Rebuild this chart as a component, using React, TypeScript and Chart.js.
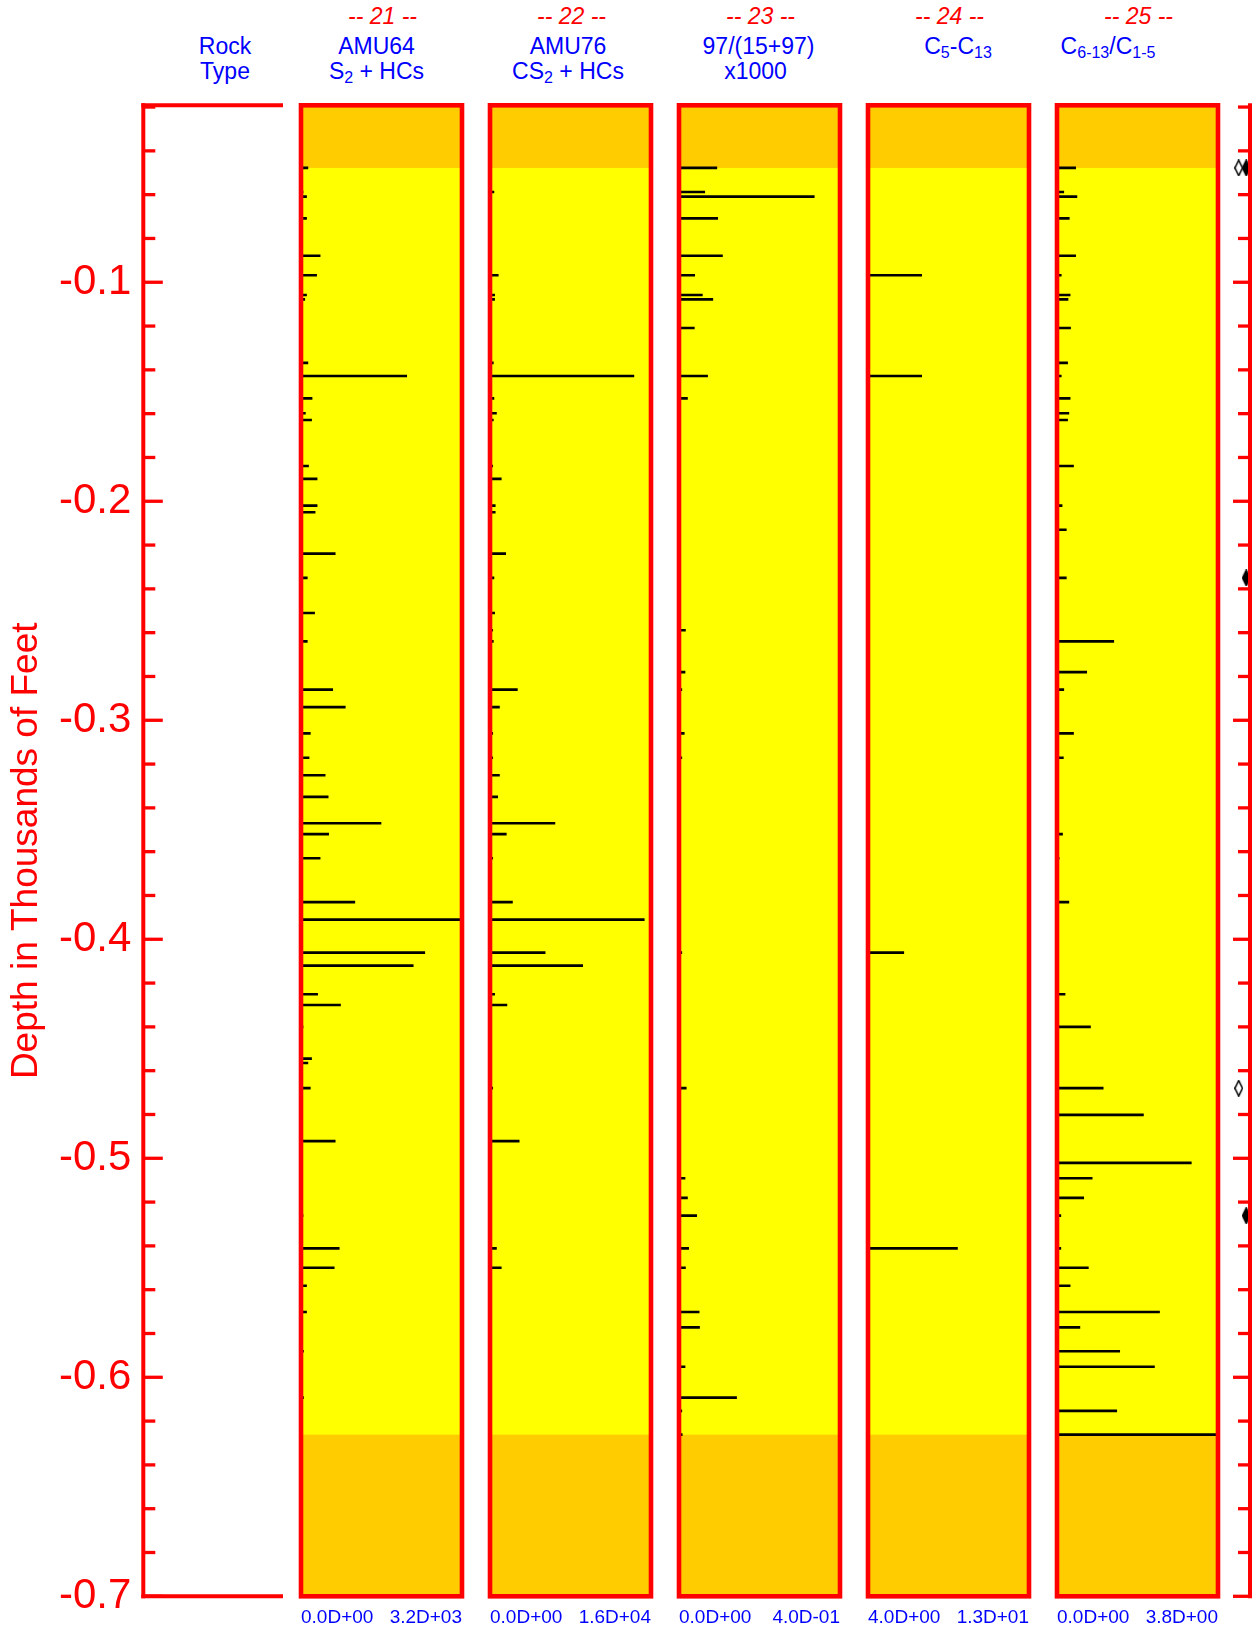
import React, { useEffect, useRef } from 'react';
import { Chart, registerables } from 'chart.js';

Chart.register(...registerables);

// ---------------- data ----------------
const DEPTHS = [
  -0.0478, -0.0588, -0.0609, -0.0708, -0.0879, -0.0968, -0.1058, -0.1078, -0.1209, -0.1368,
  -0.1428, -0.153, -0.1598, -0.1629, -0.1839, -0.1898, -0.202, -0.205, -0.213, -0.2239,
  -0.235, -0.251, -0.2589, -0.264, -0.278, -0.286, -0.294, -0.306, -0.3171, -0.3251,
  -0.335, -0.347, -0.352, -0.363, -0.383, -0.391, -0.4061, -0.412, -0.4251, -0.43,
  -0.44, -0.4545, -0.4565, -0.468, -0.4802, -0.4922, -0.5021, -0.5091, -0.5181, -0.5262,
  -0.5411, -0.55, -0.5582, -0.5702, -0.5772, -0.5881, -0.5952, -0.6093, -0.6153, -0.6262,
];

const AMU64_S2_HC = [
  137, 40, 110, 110, 380, 310, 110, 75, null, 137,
  2100, 220, 87, 210, 150, 320, 320, 280, null, 680,
  125, 270, null, 125, null, 630, 880, 185, 160, 480,
  540, 1590, 550, 380, 1070, 3200, 2460, 2230, 330, 785,
  40, 210, 137, 185, null, 680, null, null, null, 40,
  760, 660, 110, 110, null, 50, null, 50, null, null,
];

const AMU76_CS2_HC = [
  null, 390, null, null, null, 820, 460, 460, null, 330,
  14300, 390, 640, 330, 270, 1120, 520, 520, null, 1560,
  390, 460, 270, 330, null, 2720, 940, 270, 270, 940,
  760, 6450, 1620, 270, 2230, 15330, 5480, 9210, 460, 1680,
  null, null, null, 270, null, 2900, null, null, null, null,
  640, 1120, null, null, null, null, null, null, null, null,
];

const RATIO_97 = [
  0.094, 0.064, 0.336, 0.096, 0.108, 0.039, 0.058, 0.084, 0.038, null,
  0.071, 0.021, null, null, null, null, null, null, null, null,
  null, null, 0.016, null, 0.015, 0.007, null, 0.013, 0.007, null,
  null, null, null, null, null, null, 0.007, null, null, null,
  null, null, null, 0.018, null, null, null, 0.015, 0.021, 0.044,
  0.024, 0.016, null, 0.05, 0.051, null, 0.015, 0.143, 0.007, 0.008,
];

const C5_C13 = [
  null, null, null, null, null, 7.0, null, null, null, null,
  7.0, null, null, null, null, null, null, null, null, null,
  null, null, null, null, null, null, null, null, null, null,
  null, null, null, null, null, null, 6.0, null, null, null,
  null, null, null, null, null, null, null, null, null, null,
  9.0, null, null, null, null, null, null, null, null, null,
];

const C613_C15 = [
  0.44, 0.16, 0.47, 0.29, 0.44, 0.1, 0.31, 0.26, 0.32, 0.25,
  0.1, 0.31, 0.28, 0.25, 0.39, null, 0.12, null, 0.22, null,
  0.22, null, null, 1.34, 0.7, 0.16, null, 0.39, 0.15, null,
  null, null, 0.13, 0.05, 0.28, null, null, null, 0.19, null,
  0.79, null, null, 1.09, 2.04, null, 3.17, 0.83, 0.63, 0.09,
  0.09, 0.74, 0.31, 2.42, 0.54, 1.48, 2.3, null, 1.41, 3.8,
];

const PANEL_SERIES = [AMU64_S2_HC, AMU76_CS2_HC, RATIO_97, C5_C13, C613_C15];
const PANEL_NUMBERS = ['21', '22', '23', '24', '25'];
const RANGE_MIN = [0, 0, 0, 4, 0];
const RANGE_MAX = [3200, 16000, 0.4, 13, 3.8];

const DEPTH_MIN = -0.7;
const DEPTH_MAX = -0.0192;
const DEPTH_STEP = 0.02;

const FLAGS_OPEN = [-0.0478, -0.468];
const FLAGS_FILLED = [-0.0478, -0.235, -0.5262];

// ---------------- style / layout ----------------
const FONT = '"Liberation Sans", Arial, Helvetica, sans-serif';
const RED = '#ff0000';
const BLUE = '#0000ff';
const ORANGE = '#ffcc00';
const YELLOW = '#ffff00';

const W = 1256;
const H = 1629;
const PLOT_TOP = 105.3;
const PLOT_BOTTOM = 1596.3;
const AXIS_X = 143.3;
const ROCK_RIGHT = 283;
const LEFT_CANVAS_W = 296;
const PANEL_LEFT0 = 301;
const PANEL_STEP = 189;
const PANEL_W = 161;
const PANEL_PAD = 8;
const RIGHT_CANVAS_LEFT = 1200;
const RIGHT_AXIS_X = 1250;
const FLAG_AREA_LEFT = 1235;

const isMajor = (v: number) => Math.abs(v * 10 - Math.round(v * 10)) < 1e-6;
const depthLabel = (v: number) => (isMajor(v) ? (Math.round(v * 10) / 10).toFixed(1) : '');

function depthTicks(scale: any) {
  const n = Math.floor((DEPTH_MAX - DEPTH_MIN) / DEPTH_STEP + 1e-6);
  const ticks = [];
  for (let k = 0; k <= n; k++) ticks.push({ value: +(DEPTH_MIN + k * DEPTH_STEP).toFixed(4) });
  scale.ticks = ticks;
}

const noPadding = (s: any) => {
  s.paddingTop = 0;
  s.paddingBottom = 0;
  s.paddingLeft = 0;
  s.paddingRight = 0;
};

function fmtD(v: number): string {
  if (v === 0) return '0.0D+00';
  const e = Math.floor(Math.log10(Math.abs(v)) + 1e-9);
  const m = v / Math.pow(10, e);
  const ae = Math.abs(e);
  return `${m.toFixed(1)}D${e < 0 ? '-' : '+'}${ae < 10 ? '0' + ae : ae}`;
}

function drawAxisMarks(chart: any, side: 'left' | 'right') {
  const { ctx, chartArea: a } = chart;
  const y = chart.scales.y;
  const x0 = side === 'left' ? a.left : a.right;
  const dir = side === 'left' ? 1 : -1;
  ctx.save();
  ctx.strokeStyle = RED;
  ctx.lineCap = 'butt';
  ctx.lineWidth = 4;
  ctx.beginPath();
  ctx.moveTo(x0, a.top - 2);
  ctx.lineTo(x0, a.bottom + 2);
  ctx.stroke();
  if (side === 'left') {
    ctx.beginPath();
    ctx.moveTo(x0 - 2, a.top);
    ctx.lineTo(a.right, a.top);
    ctx.moveTo(x0 - 2, a.bottom);
    ctx.lineTo(a.right, a.bottom);
    ctx.stroke();
  }
  ctx.lineWidth = 3.3;
  for (const t of y.ticks) {
    const py = y.getPixelForValue(t.value);
    const len = isMajor(t.value) ? (side === 'left' ? 19.5 : 17) : 12;
    ctx.beginPath();
    ctx.moveTo(x0, py);
    ctx.lineTo(x0 + dir * len, py);
    ctx.stroke();
  }
  ctx.restore();
}

function DepthAxisChart() {
  const ref = useRef<HTMLCanvasElement>(null);
  useEffect(() => {
    const chart = new Chart(ref.current as HTMLCanvasElement, {
      type: 'scatter',
      data: { datasets: [] },
      options: {
        responsive: false,
        animation: false,
        events: [],
        layout: { padding: { left: 0, top: PLOT_TOP, right: LEFT_CANVAS_W - ROCK_RIGHT, bottom: H - PLOT_BOTTOM } },
        plugins: { legend: { display: false }, tooltip: { enabled: false } },
        scales: {
          x: { display: false, min: 0, max: 1 },
          y: {
            type: 'linear',
            position: 'left',
            min: DEPTH_MIN,
            max: DEPTH_MAX,
            afterBuildTicks: depthTicks,
            afterFit: (s: any) => { s.width = AXIS_X; noPadding(s); },
            grid: { display: false },
            border: { display: false },
            ticks: {
              autoSkip: false,
              padding: 4,
              color: RED,
              font: { family: FONT, size: 42 },
              callback: (v: any) => depthLabel(Number(v)),
            },
            title: {
              display: true,
              text: 'Depth in Thousands of Feet',
              color: RED,
              font: { family: FONT, size: 37 },
              padding: { top: 5, bottom: 0 },
            },
          },
        },
      } as any,
      plugins: [{ id: 'leftAxisMarks', afterDraw: (c: any) => drawAxisMarks(c, 'left') }],
    });
    return () => chart.destroy();
  }, []);
  return <canvas ref={ref} width={LEFT_CANVAS_W} height={H} style={{ position: 'absolute', left: 0, top: 0 }} />;
}

const panelFrame = {
  id: 'panelFrame',
  beforeDatasetsDraw(chart: any) {
    const { ctx, chartArea: a } = chart;
    const y = chart.scales.y;
    const top = Math.max(...DEPTHS);
    const bottom = Math.min(...DEPTHS);
    ctx.save();
    ctx.fillStyle = ORANGE;
    ctx.fillRect(a.left, a.top, a.right - a.left, a.bottom - a.top);
    const y1 = y.getPixelForValue(top);
    const y2 = y.getPixelForValue(bottom);
    ctx.fillStyle = YELLOW;
    ctx.fillRect(a.left, y1, a.right - a.left, y2 - y1);
    ctx.restore();
  },
  afterDraw(chart: any) {
    const { ctx, chartArea: a } = chart;
    ctx.save();
    ctx.strokeStyle = RED;
    ctx.lineWidth = 4.6;
    ctx.strokeRect(a.left, a.top, a.right - a.left, a.bottom - a.top);
    ctx.restore();
  },
};

function PanelChart({ index }: { index: number }) {
  const ref = useRef<HTMLCanvasElement>(null);
  useEffect(() => {
    const values = PANEL_SERIES[index];
    const min = RANGE_MIN[index];
    const max = RANGE_MAX[index];
    const points = DEPTHS.map((d, i) => (values[i] == null ? null : { x: values[i], y: d })).filter(Boolean);
    const chart = new Chart(ref.current as HTMLCanvasElement, {
      type: 'bar',
      data: {
        datasets: [
          {
            data: points as any,
            backgroundColor: '#000000',
            borderWidth: 0,
            barThickness: 2,
            clip: 0,
          },
        ],
      },
      options: {
        indexAxis: 'y',
        responsive: false,
        animation: false,
        events: [],
        layout: { padding: { left: PANEL_PAD, right: PANEL_PAD, top: PLOT_TOP, bottom: 0 } },
        plugins: { legend: { display: false }, tooltip: { enabled: false } },
        scales: {
          x: {
            type: 'linear',
            position: 'bottom',
            min,
            max,
            grid: { display: false },
            border: { display: false },
            afterBuildTicks: (s: any) => { s.ticks = [{ value: min }, { value: max }]; },
            afterFit: (s: any) => { s.height = H - PLOT_BOTTOM; noPadding(s); },
            ticks: {
              align: 'inner',
              autoSkip: false,
              maxRotation: 0,
              padding: 2,
              color: BLUE,
              font: { family: FONT, size: 19 },
              callback: (v: any) => fmtD(Number(v)),
            },
          },
          y: {
            type: 'linear',
            min: DEPTH_MIN,
            max: DEPTH_MAX,
            offset: false,
            display: false,
            afterFit: noPadding,
          },
        },
      } as any,
      plugins: [panelFrame],
    });
    return () => chart.destroy();
  }, [index]);
  const left = PANEL_LEFT0 + index * PANEL_STEP - PANEL_PAD;
  return (
    <canvas
      ref={ref}
      width={PANEL_W + 2 * PANEL_PAD}
      height={H}
      style={{ position: 'absolute', left, top: 0 }}
    />
  );
}

function makeDiamond(filled: boolean): HTMLCanvasElement {
  const c = document.createElement('canvas');
  const w = 9;
  const h = 17;
  c.width = w;
  c.height = h;
  const g = c.getContext('2d') as CanvasRenderingContext2D;
  g.beginPath();
  g.moveTo(w / 2, 0.75);
  g.lineTo(w - 0.75, h / 2);
  g.lineTo(w / 2, h - 0.75);
  g.lineTo(0.75, h / 2);
  g.closePath();
  g.fillStyle = filled ? '#000000' : '#ffffff';
  g.fill();
  g.strokeStyle = '#000000';
  g.lineWidth = 1.5;
  g.stroke();
  return c;
}

function FlagChart() {
  const ref = useRef<HTMLCanvasElement>(null);
  useEffect(() => {
    const open = makeDiamond(false);
    const filled = makeDiamond(true);
    const chart = new Chart(ref.current as HTMLCanvasElement, {
      type: 'scatter',
      data: {
        datasets: [
          { data: FLAGS_OPEN.map((d) => ({ x: 'open', y: d })), pointStyle: open as any, radius: 5 },
          { data: FLAGS_FILLED.map((d) => ({ x: 'filled', y: d })), pointStyle: filled as any, radius: 5 },
        ] as any,
      },
      options: {
        responsive: false,
        animation: false,
        events: [],
        layout: { padding: { left: FLAG_AREA_LEFT - RIGHT_CANVAS_LEFT, top: PLOT_TOP, right: 0, bottom: H - PLOT_BOTTOM } },
        plugins: { legend: { display: false }, tooltip: { enabled: false } },
        scales: {
          x: { type: 'category', labels: ['open', 'filled'], offset: true, display: false },
          y: {
            type: 'linear',
            position: 'right',
            min: DEPTH_MIN,
            max: DEPTH_MAX,
            afterBuildTicks: depthTicks,
            afterFit: (s: any) => { s.width = W - RIGHT_AXIS_X; noPadding(s); },
            grid: { display: false },
            border: { display: false },
            ticks: { display: false, autoSkip: false },
          },
        },
      } as any,
      plugins: [{ id: 'rightAxisMarks', afterDraw: (c: any) => drawAxisMarks(c, 'right') }],
    });
    return () => chart.destroy();
  }, []);
  return (
    <canvas
      ref={ref}
      width={W - RIGHT_CANVAS_LEFT}
      height={H}
      style={{ position: 'absolute', left: RIGHT_CANVAS_LEFT, top: 0 }}
    />
  );
}

const Sub = ({ children }: { children: React.ReactNode }) => (
  <span style={{ fontSize: 16, position: 'relative', top: 4 }}>{children}</span>
);

function HeaderLine({ cx, baseline, color, italic, children }: any) {
  return (
    <div
      style={{
        position: 'absolute',
        left: cx - 150,
        width: 300,
        top: baseline - 20,
        textAlign: 'center',
        fontFamily: FONT,
        fontSize: 23,
        lineHeight: '24px',
        whiteSpace: 'nowrap',
        color,
        fontStyle: italic ? 'italic' : 'normal',
      }}
    >
      {children}
    </div>
  );
}

function Headers() {
  const panelCx = (i: number) => PANEL_LEFT0 + i * PANEL_STEP + PANEL_W / 2;
  return (
    <>
      <HeaderLine cx={225} baseline={54} color={BLUE}>Rock</HeaderLine>
      <HeaderLine cx={225} baseline={78.7} color={BLUE}>Type</HeaderLine>
      {PANEL_NUMBERS.map((n, i) => (
        <HeaderLine key={n} cx={panelCx(i) + 1} baseline={24} color={RED} italic>
          {`-- ${n} --`}
        </HeaderLine>
      ))}
      <HeaderLine cx={376.5} baseline={54} color={BLUE}>AMU64</HeaderLine>
      <HeaderLine cx={376.5} baseline={78.7} color={BLUE}>S<Sub>2</Sub> + HCs</HeaderLine>
      <HeaderLine cx={568} baseline={54} color={BLUE}>AMU76</HeaderLine>
      <HeaderLine cx={568} baseline={78.7} color={BLUE}>CS<Sub>2</Sub> + HCs</HeaderLine>
      <HeaderLine cx={758.5} baseline={54} color={BLUE}>97/(15+97)</HeaderLine>
      <HeaderLine cx={755.5} baseline={78.7} color={BLUE}>x1000</HeaderLine>
      <HeaderLine cx={958} baseline={54} color={BLUE}>C<Sub>5</Sub>-C<Sub>13</Sub></HeaderLine>
      <HeaderLine cx={1108} baseline={54} color={BLUE}>C<Sub>6-13</Sub>/C<Sub>1-5</Sub></HeaderLine>
    </>
  );
}

export default function App() {
  return (
    <div
      style={{
        position: 'absolute',
        left: 0,
        top: 0,
        width: W,
        height: H,
        background: '#ffffff',
        overflow: 'hidden',
      }}
    >
      <Headers />
      <DepthAxisChart />
      {PANEL_SERIES.map((_, i) => (
        <PanelChart key={i} index={i} />
      ))}
      <FlagChart />
    </div>
  );
}
